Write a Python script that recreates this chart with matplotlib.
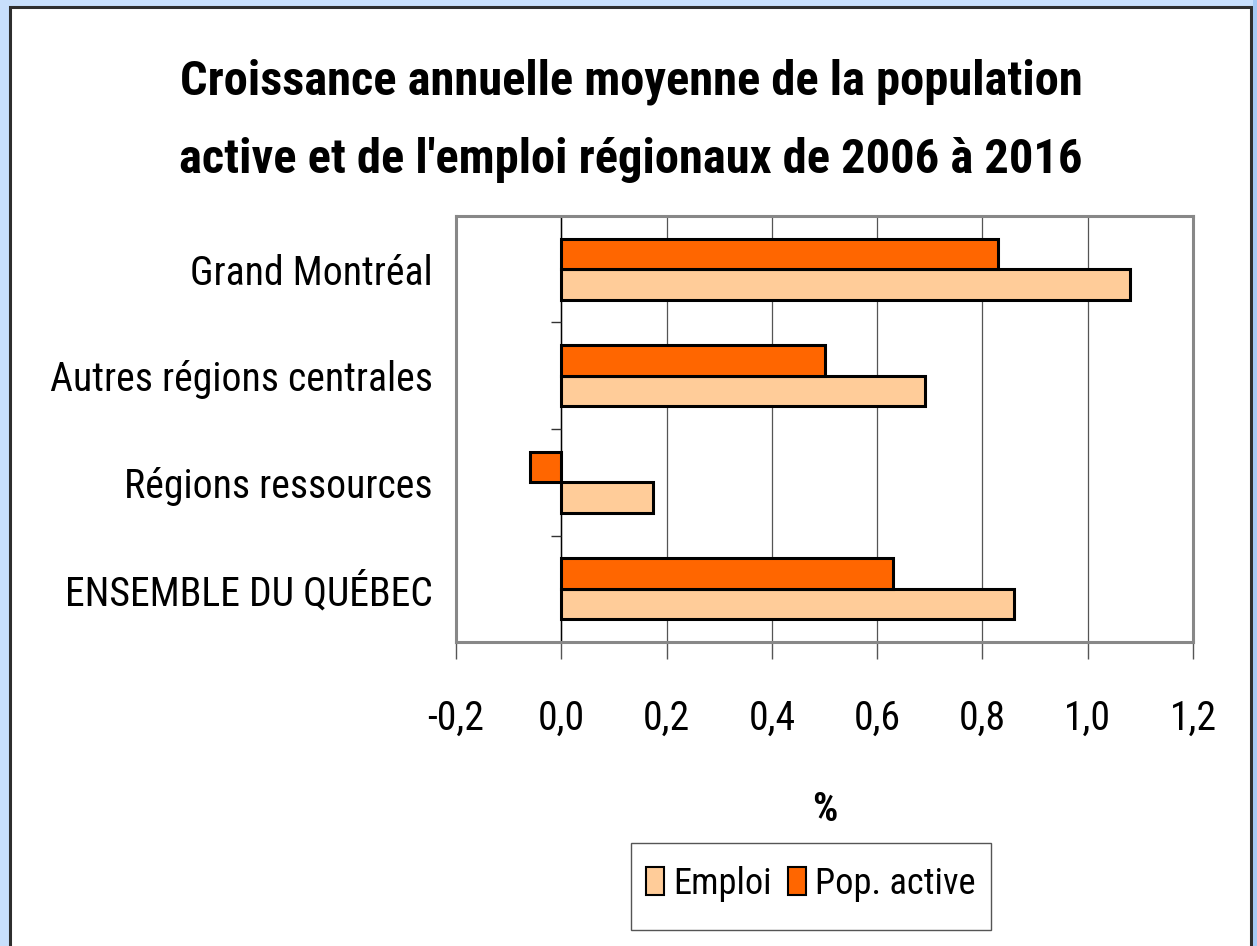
import matplotlib
matplotlib.use("Agg")
import matplotlib.pyplot as plt
from matplotlib import font_manager
from matplotlib.patches import Rectangle, Patch

regions = ["Grand Montréal", "Autres régions centrales", "Régions ressources", "ENSEMBLE DU QUÉBEC"]
emploi = [1.08, 0.69, 0.175, 0.86]
pop_active = [0.83, 0.50, -0.06, 0.63]
xticks = [-0.2, 0.0, 0.2, 0.4, 0.6, 0.8, 1.0, 1.2]
xtick_labels = ["-0,2", "0,0", "0,2", "0,4", "0,6", "0,8", "1,0", "1,2"]
title_lines = ["Croissance annuelle moyenne de la population",
               "active et de l'emploi régionaux de 2006 à 2016"]
legend_labels = ["Emploi", "Pop. active"]
colors = {"Emploi": "#FFCC99", "Pop. active": "#FF6600"}


def pick_font():
    # the original uses a narrow Arial; take the closest narrow face we have
    fl = font_manager.fontManager.ttflist
    names = {f.name for f in fl}
    for nm in ["Liberation Sans Narrow", "Arial Narrow", "Roboto Condensed", "Open Sans Condensed"]:
        if nm in names:
            return nm, "normal"
    for st in ["condensed", "semi-condensed", "extra-condensed"]:
        for f in fl:
            if str(f.stretch) == st and "Sans" in f.name and "Mono" not in f.name and "CJK" not in f.name:
                return f.name, st
    return "Liberation Sans", "normal"


fam, stretch = pick_font()
plt.rcParams["font.family"] = [fam, "DejaVu Sans"]
plt.rcParams["font.stretch"] = stretch

W, H = 1257, 946
fig = plt.figure(figsize=(W / 100, H / 100), dpi=100)
fig.patch.set_facecolor("#C8DFFC")
renderer = fig.canvas.get_renderer()


def fit_size(s, target, **kw):
    t = fig.text(0, 0, s, fontsize=20, **kw)
    w = t.get_window_extent(renderer).width
    t.remove()
    return 20 * target / w


fs = (fit_size("Grand Montréal", 228) + fit_size("ENSEMBLE DU QUÉBEC", 387)) / 2
fs_title = fit_size(title_lines[0], 902, fontweight="bold")
fs_leg = fit_size("Pop. active", 160)
px = fs_leg * 100 / 72

# white panel with dark frame
fig.add_artist(Rectangle((10 / W, -0.01), 1241 / W, (H - 7) / H + 0.01, transform=fig.transFigure,
                         facecolor="white", edgecolor="#2e2e2e", lw=2.2, zorder=0))
fig.add_artist(Rectangle((1253 / W, 0), 4 / W, 1, transform=fig.transFigure,
                         facecolor="#A6C9F4", edgecolor="none", zorder=0))

ax = fig.add_axes([456 / W, 1 - 642 / H, 737 / W, 426 / H])
ax.set_facecolor("white")

n = len(regions)
ypos = [n - 1 - i for i in range(n)]
h = 0.286
ax.barh([y - h / 2 for y in ypos], emploi, height=h, color=colors["Emploi"], edgecolor="black", lw=2.2,
        zorder=3)
ax.barh([y + h / 2 for y in ypos], pop_active, height=h, color=colors["Pop. active"], edgecolor="black",
        lw=2.2, zorder=3)

ax.set_xlim(-0.2, 1.2)
ax.set_ylim(-0.5, n - 0.5)
ax.set_xticks(xticks)
ax.set_xticklabels(xtick_labels, fontsize=fs)
ax.set_yticks(ypos)
ax.set_yticklabels(regions, fontsize=fs)
ax.tick_params(axis="y", length=0, pad=17)
ax.tick_params(axis="x", length=12, width=1, color="#555555", pad=29)

ax.grid(axis="x", color="#555555", lw=0.9, zorder=1)
ax.axvline(0, color="black", lw=1, zorder=2)
# category ticks sit on the zero line
ax.hlines([y + 0.5 for y in ypos], -0.02, 0, color="#333333", lw=1, zorder=2)
for s in ax.spines.values():
    s.set_color("#888888")
    s.set_linewidth(2.2)

ax.set_xlabel("%", fontsize=fs, fontweight="bold", labelpad=38)

fig.text(631 / W, 1 - 82 / H, title_lines[0], ha="center", va="center", fontsize=fs_title, fontweight="bold")
fig.text(631 / W, 1 - 160 / H, title_lines[1], ha="center", va="center", fontsize=fs_title, fontweight="bold")

handles = [Patch(facecolor=colors[l], edgecolor="black", lw=1.5) for l in legend_labels]
fig.legend(handles, legend_labels, loc="center", bbox_to_anchor=(811 / W, 1 - 884 / H),
           ncol=2, fontsize=fs_leg, frameon=False, handlelength=18 / px, handleheight=29 / px,
           handletextpad=0.25, columnspacing=0.45, borderpad=0)
# legend box drawn by hand: taller than wide padding allows
fig.add_artist(Rectangle((631 / W, 1 - 930 / H), 360 / W, 87 / H, transform=fig.transFigure,
                         facecolor="none", edgecolor="#555555", lw=1))

fig.savefig("out.png", dpi=100, facecolor=fig.get_facecolor())
